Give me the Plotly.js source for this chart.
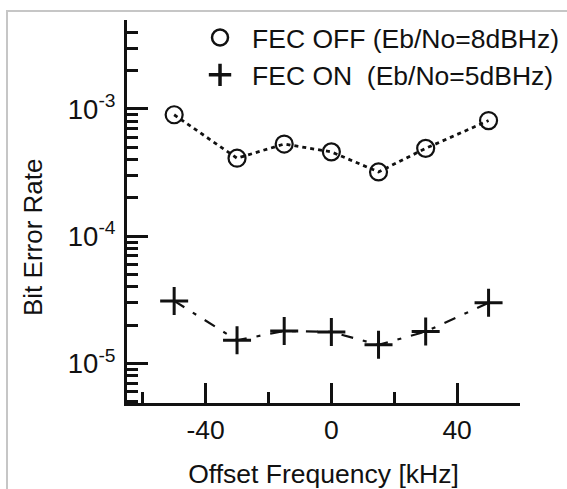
<!DOCTYPE html>
<html>
<head>
<meta charset="utf-8">
<script src="https://cdn.plot.ly/plotly-3.0.1.min.js"></script>
<style>
  html, body { margin: 0; padding: 0; background: #fff; }
  #wrap { position: relative; width: 567px; height: 489px; overflow: hidden; }
  #chart { width: 567px; height: 489px; }
  #frame { position: absolute; left: 6px; top: 10px; width: 700px; height: 700px;
           border-top: 2px solid #c6c6c6; border-left: 2px solid #c6c6c6; pointer-events: none; }
</style>
</head>
<body>
<div id="wrap">
  <div id="chart"></div>
  <div id="frame"></div>
</div>
<script>
// Offset frequency [kHz]
const offsetKHz = [-50, -30, -15, 0, 15, 30, 50];
// Bit error rate, FEC OFF (Eb/No = 8 dBHz)
const berFecOff = [9.0e-4, 4.1e-4, 5.3e-4, 4.6e-4, 3.2e-4, 4.9e-4, 8.1e-4];
// Bit error rate, FEC ON (Eb/No = 5 dBHz)
const berFecOn = [3.1e-5, 1.52e-5, 1.8e-5, 1.77e-5, 1.4e-5, 1.78e-5, 3.0e-5];

const seriesNames = ['FEC OFF (Eb/No=8dBHz)', 'FEC ON\u00a0 (Eb/No=5dBHz)'];

// Axis ticks
const xMajorTicks = [-40, 0, 40];
const xMajorText = ['-40', '0', '40'];
const xMinorTicks = [-60, -20, 20, 60];
const yMajorTicks = [1e-5, 1e-4, 1e-3];
const yMajorText = ['10<sup>-5</sup>', '10<sup>-4</sup>', '10<sup>-3</sup>'];
const yMinorTicks = [5e-6, 6e-6, 7e-6, 8e-6, 9e-6,
                     2e-5, 3e-5, 4e-5, 5e-5, 6e-5, 7e-5, 8e-5, 9e-5,
                     2e-4, 3e-4, 4e-4, 5e-4, 6e-4, 7e-4, 8e-4, 9e-4,
                     2e-3, 3e-3, 4e-3, 5e-3];

const ink = '#111111';
const fontFam = '"Liberation Sans", Arial, Helvetica, sans-serif';

const traces = [
  {
    x: offsetKHz, y: berFecOff, type: 'scatter', mode: 'lines+markers',
    name: seriesNames[0], showlegend: false,
    line: { color: ink, width: 2.8, dash: '4px,4px' },
    marker: { symbol: 'circle-open', size: 17, color: ink, line: { color: ink, width: 2.2 } }
  },
  {
    x: offsetKHz, y: berFecOn, type: 'scatter', mode: 'lines+markers',
    name: seriesNames[1], showlegend: false,
    line: { color: ink, width: 2.2, dash: '12px,10px,4px,10px' },
    marker: { symbol: 'cross-thin-open', size: 20, color: ink, line: { color: ink, width: 3 } }
  },
  // legend entries (symbol only, as in the original key)
  {
    x: [null], y: [null], type: 'scatter', mode: 'markers', name: seriesNames[0],
    marker: { symbol: 'circle-open', size: 20, color: ink, line: { color: ink, width: 2.5 } }
  },
  {
    x: [null], y: [null], type: 'scatter', mode: 'markers', name: seriesNames[1],
    marker: { symbol: 'cross-thin-open', size: 20, color: ink, line: { color: ink, width: 3.5 } }
  }
];

const layout = {
  width: 567, height: 489,
  margin: { l: 127, r: 47, t: 20, b: 86, autoexpand: false },
  paper_bgcolor: '#ffffff', plot_bgcolor: '#ffffff',
  font: { family: fontFam, size: 26, color: ink },
  showlegend: true,
  legend: {
    xref: 'container', yref: 'container',
    x: 0.3316, y: 0.972, xanchor: 'left', yanchor: 'top',
    bgcolor: 'rgba(0,0,0,0)', borderwidth: 0,
    font: { family: fontFam, size: 26.5, color: ink },
    tracegroupgap: 0, itemsizing: 'trace', itemwidth: 54
  },
  xaxis: {
    range: [-65, 60], showgrid: false, zeroline: false,
    showline: true, linecolor: ink, linewidth: 3,
    ticks: 'inside', ticklen: 20, tickwidth: 3, tickcolor: ink,
    tickmode: 'array', tickvals: xMajorTicks, ticktext: xMajorText,
    tickfont: { family: fontFam, size: 26.5, color: ink },
    ticklabelstandoff: 1,
    minor: { tickmode: 'array', tickvals: xMinorTicks, ticks: 'inside', ticklen: 11, tickwidth: 3, tickcolor: ink, showgrid: false },
    title: { text: 'Offset Frequency [kHz]', font: { family: fontFam, size: 26.5, color: ink }, standoff: 34 }
  },
  yaxis: {
    type: 'log', range: [Math.log10(4.89e-6), Math.log10(5e-3)],
    showgrid: false, zeroline: false,
    showline: true, linecolor: ink, linewidth: 3,
    ticks: 'inside', ticklen: 21, tickwidth: 3, tickcolor: ink,
    tickmode: 'array', tickvals: yMajorTicks, ticktext: yMajorText,
    tickfont: { family: fontFam, size: 27.5, color: ink },
    ticklabelstandoff: 3,
    minor: { tickmode: 'array', tickvals: yMinorTicks, ticks: 'inside', ticklen: 11, tickwidth: 3, tickcolor: ink, showgrid: false }
  },
  annotations: [
    {
      text: 'Bit Error Rate', textangle: -90, showarrow: false,
      xref: 'paper', yref: 'paper', x: -0.2405, y: 0.4347,
      xanchor: 'center', yanchor: 'middle',
      font: { family: fontFam, size: 26, color: ink }
    }
  ]
};

Plotly.newPlot('chart', traces, layout, { displayModeBar: false, staticPlot: true });
</script>
</body>
</html>
